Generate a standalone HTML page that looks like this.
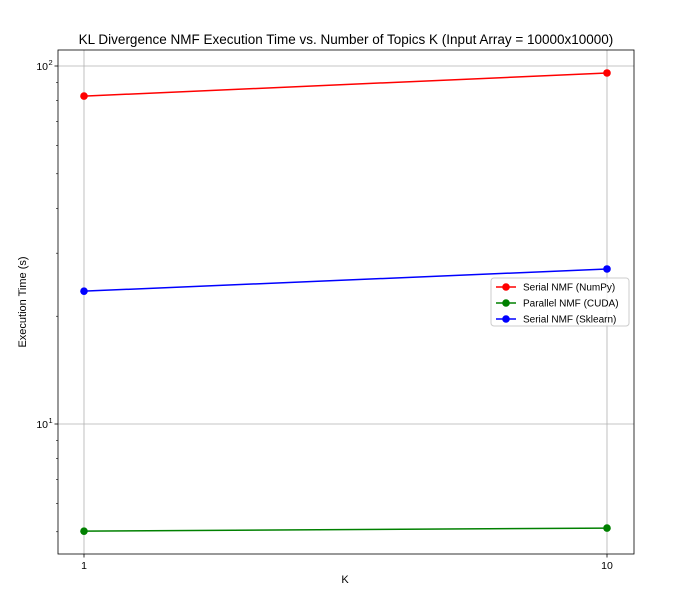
<!DOCTYPE html>
<html><head><meta charset="utf-8"><style>
body{margin:0;background:#fff;}
svg{display:block;font-family:"Liberation Sans","DejaVu Sans",sans-serif;}
</style></head><body>
<svg id="chart" width="691" height="604" xmlns="http://www.w3.org/2000/svg">
<rect width="691" height="604" fill="#fff"/>
<text x="346" y="44" font-size="13.5" text-anchor="middle">KL Divergence NMF Execution Time vs. Number of Topics K (Input Array = 10000x10000)</text>
<g id="grid"></g>
<g id="axes"></g>
<g id="series"></g>
<text x="345" y="583" font-size="11" text-anchor="middle">K</text>
<text x="26" y="302" font-size="11" text-anchor="middle" transform="rotate(-90 26 302)">Execution Time (s)</text>
<g>
<rect x="491" y="278" width="138" height="48" rx="3" fill="#fff" fill-opacity="0.8" stroke="#ccc"/>
<g id="legend-items"></g>
</g>
</svg>
<script>
const categories=[1,10];
const seriesNames=["Serial NMF (NumPy)","Parallel NMF (CUDA)","Serial NMF (Sklearn)"];
const numpyVals=[82.4,95.6];
const cudaVals=[5.02,5.12];
const sklearnVals=[23.5,27.1];
const colors=["#ff0000","#008000","#0000ff"];
const yMajorTicks=[10,100];
const yMajorLabels=["10","10"];
const yMajorExp=["1","2"];
const xTicks=[1,10];
const xTickLabels=["1","10"];

const L=58,R=634,T=50,B=554;
const xmin=Math.log10(1)-26/523, xmax=1+27/523;
const ymin=1-130/358, ymax=2+16/358;
const X=v=>L+(Math.log10(v)-xmin)/(xmax-xmin)*(R-L);
const Y=v=>B-(Math.log10(v)-ymin)/(ymax-ymin)*(B-T);
const NS="http://www.w3.org/2000/svg";
function mk(tag,attrs,parent){const e=document.createElementNS(NS,tag);for(const k in attrs)e.setAttribute(k,attrs[k]);parent.appendChild(e);return e;}
const grid=document.getElementById('grid'),axes=document.getElementById('axes'),ser=document.getElementById('series');
xTicks.forEach((t,i)=>{
  const x=X(t);
  const g=mk('line',{x1:x,x2:x,y1:T,y2:B,stroke:'#b0b0b0','stroke-width':0.8},grid);
  
  
  mk('line',{x1:x,x2:x,y1:B,y2:B+3.5,stroke:'#000','stroke-width':0.8},axes);
  const tx=mk('text',{x:x,y:B+15,'font-size':10.5,'text-anchor':'middle'},axes);
  tx.textContent=xTickLabels[i];
  
  
});
yMajorTicks.forEach((t,i)=>{
  const y=Y(t);
  const g=mk('line',{x1:L,x2:R,y1:y,y2:y,stroke:'#b0b0b0','stroke-width':0.8},grid);
  
  
  mk('line',{x1:L-3.5,x2:L,y1:y,y2:y,stroke:'#000','stroke-width':0.8},axes);
  const tx=mk('text',{x:L-10,y:y+4,'font-size':10.5,'text-anchor':'end'},axes);
  tx.textContent=yMajorLabels[i];
  
  
  const ex=mk('text',{x:L-9.5,y:y-1,'font-size':7.5,'text-anchor':'start'},axes);
  ex.textContent=yMajorExp[i];
  
  
});
for(let d=1;d<=100;d*=10){for(let m=2;m<=9;m++){const v=d*m;const y=Y(v);if(y<T||y>B)continue;mk('line',{x1:L-2,x2:L,y1:y,y2:y,stroke:'#000','stroke-width':0.6},axes);}}
const frame=mk('rect',{x:L,y:T,width:R-L,height:B-T,fill:'none',stroke:'#000','stroke-width':0.8},axes);


const allVals=[numpyVals,cudaVals,sklearnVals];
const keys=['numpy','cuda','sklearn'];
allVals.forEach((vals,si)=>{
  const pts=vals.map((v,i)=>X(categories[i])+','+Y(v)).join(' ');
  const pl=mk('polyline',{points:pts,fill:'none',stroke:colors[si],'stroke-width':1.5},ser);
  
  
  vals.forEach((v,i)=>{
    const c=mk('circle',{cx:X(categories[i]),cy:Y(v),r:3.8,fill:colors[si]},ser);
    
    
  });
});
const li=document.getElementById('legend-items');
seriesNames.forEach((n,i)=>{
  const y=287+i*16;
  mk('line',{x1:496,x2:516,y1:y,y2:y,stroke:colors[i],'stroke-width':1.5},li);
  mk('circle',{cx:506,cy:y,r:3.8,fill:colors[i]},li);
  const t=mk('text',{x:523,y:y+3.5,'font-size':10},li);
  t.textContent=n;
  
  
});
</script>
</body></html>
